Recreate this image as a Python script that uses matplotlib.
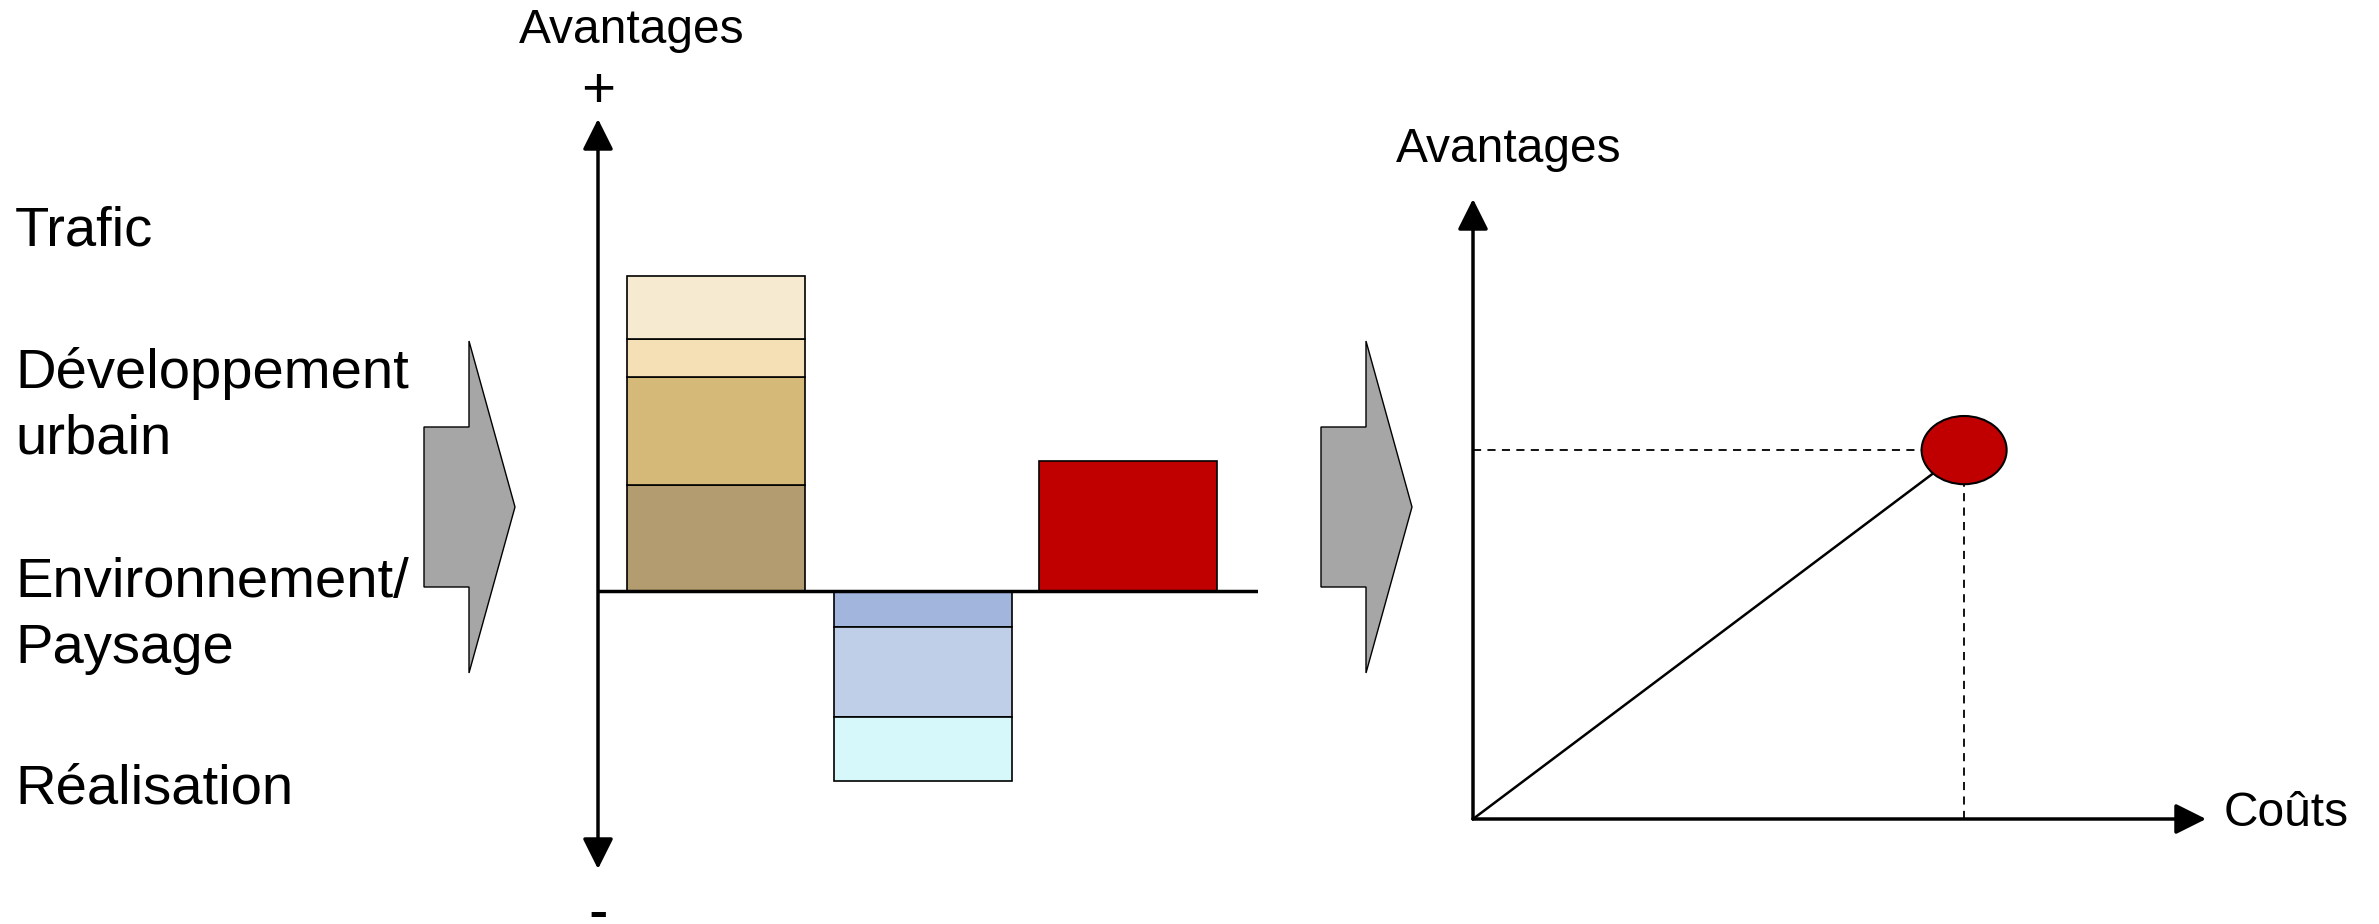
import matplotlib
matplotlib.use("Agg")
import matplotlib.pyplot as plt
from matplotlib.patches import Polygon, Ellipse

plt.rcParams['font.family'] = ['Liberation Sans', 'DejaVu Sans']

# ---- data ----
# stacked benefits (bottom to top), stacked costs (top to bottom), net result
avantages = [10.6, 10.8, 3.8, 6.3]
avantages_colors = ['#B29C70', '#D4B978', '#F5E0B6', '#F6EBD1']
couts = [3.6, 9.0, 6.4]
couts_colors = ['#A2B5DC', '#C0CFE8', '#D6F8FA']
bilan = 13.0

# right panel: cost / benefit point
point_cout = 6.70
point_avantage = 5.95

labels_gauche = [("Trafic", 246), ("Développement", 388), ("urbain", 454),
                 ("Environnement/", 597), ("Paysage", 663), ("Réalisation", 804)]

W, H = 2379, 924
fig = plt.figure(figsize=(W / 100, H / 100), dpi=100)

# background axes in pixel coordinates for texts and gray arrows
ax0 = fig.add_axes([0, 0, 1, 1])
ax0.set_xlim(0, W)
ax0.set_ylim(H, 0)
ax0.axis('off')

fs = 40.5
for txt, yb in labels_gauche:
    ax0.text(15, yb, txt, fontsize=fs, va='baseline', ha='left')

ax0.text(632, 43, "Avantages", fontsize=34.5, va='baseline', ha='center')
ax0.text(598, 107, "+", fontsize=42, va='baseline', ha='center')
ax0.text(598, 930, "-", fontsize=42, va='baseline', ha='center')
ax0.text(1396, 162, "Avantages", fontsize=34.5, va='baseline', ha='left')
ax0.text(2224, 826, "Coûts", fontsize=34.5, va='baseline', ha='left')


def gros_fleche(x0):
    pts = [(x0, 427), (x0 + 45, 427), (x0 + 45, 341), (x0 + 91, 507),
           (x0 + 45, 673), (x0 + 45, 587), (x0, 587)]
    ax0.add_patch(Polygon(pts, closed=True, facecolor='#A6A6A6',
                          edgecolor='black', lw=1.0))


gros_fleche(424)
gros_fleche(1321)

arrow_style = '-|>,head_length=0.4,head_width=0.2'

# ---- left panel: stacked bars ----
ax1 = fig.add_axes([598 / W, (H - 869) / H, 660 / W, 750 / H])
ax1.set_facecolor('none')
ax1.set_xlim((598 - 716) / 207, (1258 - 716) / 207)
ax1.set_ylim(-(869 - 591) / 10, (591 - 119) / 10)
ax1.axis('off')

bw = 0.86
bottom = 0
for h, c in zip(avantages, avantages_colors):
    ax1.bar(0, h, bottom=bottom, width=bw, color=c, edgecolor='black', lw=1.2)
    bottom += h
bottom = 0
for h, c in zip(couts, couts_colors):
    ax1.bar(1, -h, bottom=bottom, width=bw, color=c, edgecolor='black', lw=1.2)
    bottom -= h
ax1.bar(1.99, bilan, width=bw, color='#C00000', edgecolor='black', lw=1.2)

ax1.axhline(0, color='black', lw=2.5, zorder=3)
ax1.annotate('', xy=(0, 1), xytext=(0, 0), xycoords='axes fraction',
             arrowprops=dict(arrowstyle='<|-|>,head_length=0.4,head_width=0.2',
                             mutation_scale=47, lw=2.5, color='black',
                             shrinkA=0, shrinkB=0),
             annotation_clip=False)

# ---- right panel: cost / benefit ----
ax2 = fig.add_axes([1473 / W, (H - 819) / H, 733 / W, 620 / H])
ax2.set_facecolor('none')
ax2.set_xlim(0, 10)
ax2.set_ylim(0, 10)
ax2.axis('off')

ax2.plot([0, point_cout], [point_avantage, point_avantage], color='black',
         lw=1.3, ls=(0, (4.5, 3.5)), clip_on=False)
ax2.plot([point_cout, point_cout], [0, point_avantage], color='black',
         lw=1.3, ls=(0, (4.5, 3.5)), clip_on=False)
ax2.plot([0, point_cout], [0, point_avantage], color='black', lw=1.8,
         clip_on=False)
ax2.add_patch(Ellipse((point_cout, point_avantage), 1.16, 1.10,
                      facecolor='#C00000', edgecolor='black', lw=1.5,
                      zorder=5, clip_on=False))

for tip in [(0, 1), (1, 0)]:
    ax2.annotate('', xy=tip, xytext=(0, 0), xycoords='axes fraction',
                 arrowprops=dict(arrowstyle=arrow_style, mutation_scale=47,
                                 lw=2.5, color='black', shrinkA=0, shrinkB=0),
                 annotation_clip=False)

fig.savefig("out.png", dpi=100)
